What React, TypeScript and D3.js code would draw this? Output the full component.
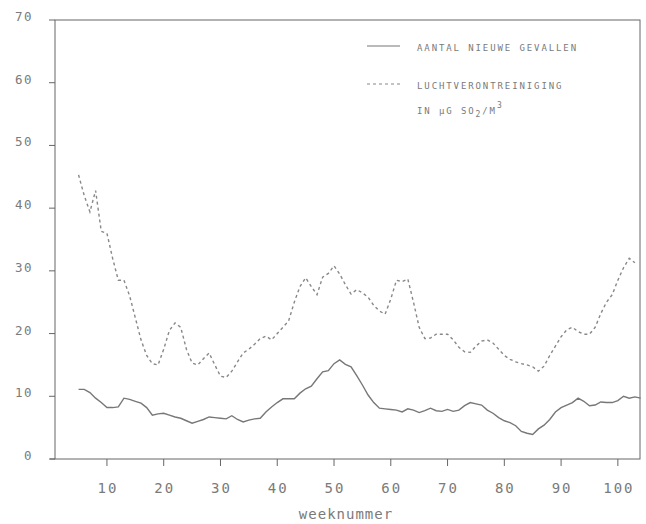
import React, { useEffect, useRef } from "react";
import * as d3 from "d3";

// weekly values
const caseWeeks = d3.range(5, 105);
const newCases = [
  11.1, 11.1, 10.6, 9.7, 9.0, 8.2, 8.2, 8.3, 9.7, 9.5,
  9.2, 8.9, 8.2, 7.0, 7.2, 7.3, 7.0, 6.7, 6.5, 6.1,
  5.7, 6.0, 6.3, 6.7, 6.6, 6.5, 6.4, 6.9, 6.3, 5.9,
  6.2, 6.4, 6.5, 7.5, 8.3, 9.0, 9.6, 9.6, 9.6, 10.5,
  11.2, 11.6, 12.8, 13.9, 14.1, 15.2, 15.8, 15.1, 14.7, 13.3,
  11.8, 10.2, 9.0, 8.1, 8.0, 7.9, 7.8, 7.5, 8.0, 7.8,
  7.4, 7.7, 8.1, 7.7, 7.6, 7.9, 7.6, 7.8, 8.5, 9.0,
  8.8, 8.6, 7.8, 7.3, 6.6, 6.1, 5.8, 5.3, 4.4, 4.1,
  3.9, 4.8, 5.4, 6.3, 7.5, 8.2, 8.6, 9.0, 9.7, 9.2,
  8.5, 8.6, 9.1, 9.0, 9.0, 9.3, 10.0, 9.7, 9.9, 9.7,
];

const so2Weeks = d3.range(5, 104);
const so2 = [
  45.3, 42.0, 39.4, 42.8, 36.3, 36.0, 32.0, 28.5, 28.5, 26.0,
  22.5, 19.0, 16.5, 15.2, 15.0, 17.5, 20.5, 21.7, 21.0, 17.5,
  15.3, 15.0, 16.0, 16.9, 15.0, 13.2, 13.0, 14.0, 15.5, 16.9,
  17.5, 18.3, 19.2, 19.6, 19.0, 20.0, 21.0, 22.0, 25.0, 27.5,
  28.9, 27.5, 26.2, 29.0, 29.6, 30.8, 29.5, 27.8, 26.3, 27.0,
  26.5, 25.8, 24.5, 23.6, 23.1, 25.5, 28.5, 28.3, 28.7, 25.0,
  21.0, 19.2, 19.3, 19.9, 19.9, 19.9, 19.0, 17.8, 17.1, 17.0,
  18.0, 18.8, 19.0, 18.5, 17.5, 16.5, 15.9, 15.5, 15.2, 15.0,
  14.7, 14.0, 14.8, 16.5, 18.0, 19.5, 20.6, 21.0, 20.3, 19.9,
  19.9, 21.0, 23.2, 25.0, 26.2, 28.5, 30.5, 32.0, 31.3,
];

const xTicks = [10, 20, 30, 40, 50, 60, 70, 80, 90, 100];
const yTicks = [0, 10, 20, 30, 40, 50, 60, 70];

const width = 646;
const height = 524;
const font = "'DejaVu Sans Mono', 'Liberation Mono', monospace";

function App() {
  const ref = useRef<SVGSVGElement>(null);

  useEffect(() => {
    const svg = d3.select(ref.current);
    svg.selectAll("*").remove();

    const left = 55, right = 640, top = 20, bottom = 459;
    const x = d3.scaleLinear().domain([0.85, 103.9]).range([left, right]);
    const y = d3.scaleLinear().domain([0, 70]).range([bottom, top]);

    const ink = "#666";
    const textInk = "#7a7a7a";

    // frame
    svg.append("rect")
      .attr("x", left).attr("y", top)
      .attr("width", right - left).attr("height", bottom - top)
      .attr("fill", "none").attr("stroke", ink).attr("stroke-width", 1);
    svg.append("line")
      .attr("x1", left - 5).attr("x2", left)
      .attr("y1", bottom).attr("y2", bottom)
      .attr("stroke", ink);

    // y axis ticks + labels
    svg.selectAll(".yt").data(yTicks).enter().append("line")
      .attr("x1", left - 6).attr("x2", left)
      .attr("y1", d => y(d)).attr("y2", d => y(d))
      .attr("stroke", ink);
    svg.selectAll(".yl").data(yTicks).enter().append("text")
      .text(d => d)
      .attr("x", 33).attr("y", d => y(d) + 1)
      .attr("text-anchor", "end")
      .attr("font-family", font).attr("font-size", 12.5)
      .attr("letter-spacing", 1.5)
      .attr("fill", textInk);

    // x axis ticks + labels
    svg.selectAll(".xt").data(xTicks).enter().append("line")
      .attr("x1", d => x(d)).attr("x2", d => x(d))
      .attr("y1", bottom).attr("y2", bottom + 7)
      .attr("stroke", ink);
    svg.selectAll(".xl").data(xTicks).enter().append("text")
      .text(d => d)
      .attr("x", d => x(d) + 1).attr("y", 493)
      .attr("text-anchor", "middle")
      .attr("font-family", font).attr("font-size", 14)
      .attr("letter-spacing", 2)
      .attr("fill", textInk);

    svg.append("text")
      .text("weeknummer")
      .attr("x", 346).attr("y", 519)
      .attr("text-anchor", "middle")
      .attr("font-family", font).attr("font-size", 14)
      .attr("letter-spacing", 1)
      .attr("fill", textInk);

    // series
    const caseLine = d3.line<number>()
      .x((_, i) => x(caseWeeks[i]))
      .y(d => y(d));
    svg.append("path")
      .attr("d", caseLine(newCases))
      .attr("fill", "none")
      .attr("stroke", "#777")
      .attr("stroke-width", 1.4);

    const so2Line = d3.line<number>()
      .x((_, i) => x(so2Weeks[i]))
      .y(d => y(d));
    svg.append("path")
      .attr("d", so2Line(so2))
      .attr("fill", "none")
      .attr("stroke", "#888")
      .attr("stroke-width", 1.4)
      .attr("stroke-dasharray", "3,3");

    // legend
    const lg = svg.append("g").attr("font-family", font).attr("font-size", 9)
      .attr("letter-spacing", 1.9).attr("fill", textInk);
    lg.append("line").attr("x1", 367).attr("x2", 400).attr("y1", 46).attr("y2", 46)
      .attr("stroke", "#777").attr("stroke-width", 1.2);
    lg.append("text").text("AANTAL NIEUWE GEVALLEN").attr("x", 417).attr("y", 50.5);
    lg.append("line").attr("x1", 367).attr("x2", 400).attr("y1", 84).attr("y2", 84)
      .attr("stroke", "#888").attr("stroke-width", 1.2).attr("stroke-dasharray", "3,3");
    lg.append("text").text("LUCHTVERONTREINIGING").attr("x", 417).attr("y", 88.5);
    const t3 = lg.append("text").attr("x", 417).attr("y", 113.5);
    t3.append("tspan").text("IN µG SO");
    t3.append("tspan").text("2").attr("dy", 3).attr("font-size", 8);
    t3.append("tspan").text("/M").attr("dy", -3);
    t3.append("tspan").text("3").attr("dy", -6).attr("font-size", 8);
  }, []);

  return (
    <svg
      ref={ref}
      width={width}
      height={height}
      style={{ position: "absolute", left: 0, top: 0, background: "#fff" }}
    />
  );
}

export default App;
